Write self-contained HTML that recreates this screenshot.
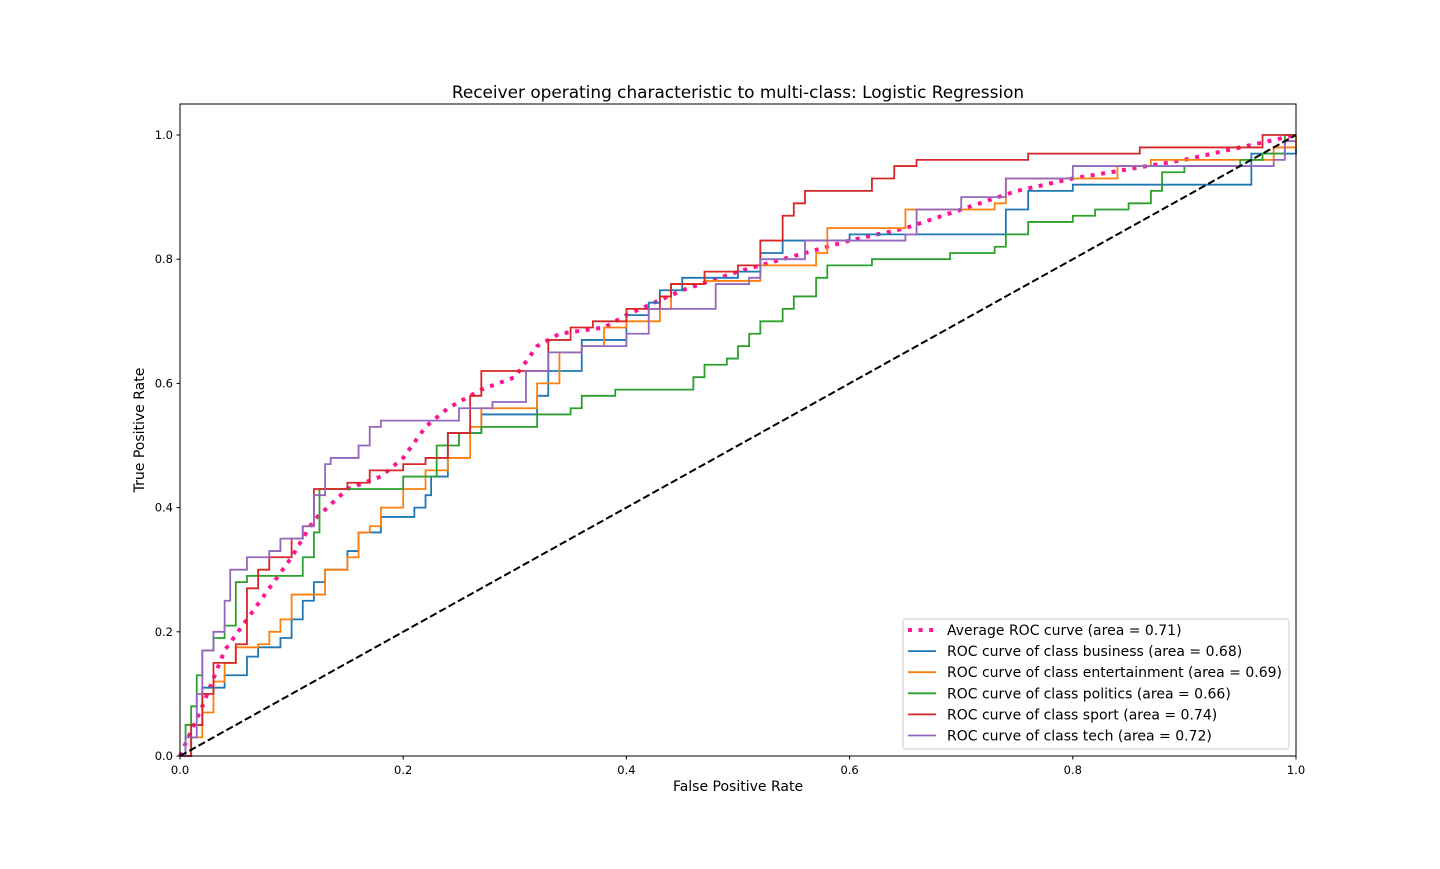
<!DOCTYPE html>
<html><head><meta charset="utf-8"><style>
body{margin:0;background:#fff;font-family:"Liberation Sans","DejaVu Sans",sans-serif}
svg text{font-family:"DejaVu Sans","Liberation Sans",sans-serif}
</style></head><body>
<svg id="chart" width="1440" height="864" xmlns="http://www.w3.org/2000/svg">
<rect width="1440" height="864" fill="#fff"/>
<text x="738" y="98" font-size="16.9" text-anchor="middle">Receiver operating characteristic to multi-class: Logistic Regression</text>
<g id="plot"></g>
<rect x="180" y="104" width="1116" height="652" fill="none" stroke="#000" stroke-width="1"/>
<g id="axes"></g>
<text x="738" y="791" font-size="14" text-anchor="middle">False Positive Rate</text>
<text transform="translate(144,430) rotate(-90)" font-size="14" text-anchor="middle">True Positive Rate</text>
<g id="legend"></g>
</svg>
<script>
const xTicks=[0,0.2,0.4,0.6,0.8,1.0];
const yTicks=[0,0.2,0.4,0.6,0.8,1.0];
const tickLabels=["0.0","0.2","0.4","0.6","0.8","1.0"];
const sportFpr=[0,0.01,0.02,0.03,0.05,0.06,0.07,0.08,0.1,0.11,0.12,0.15,0.17,0.2,0.22,0.24,0.26,0.27,0.3,0.33,0.35,0.37,0.4,0.43,0.44,0.45,0.47,0.5,0.52,0.54,0.54,0.55,0.56,0.61,0.62,0.64,0.66,0.75,0.76,0.86,0.97,1];
const sportTpr=[0,0.05,0.1,0.15,0.18,0.27,0.3,0.32,0.35,0.37,0.43,0.44,0.46,0.47,0.48,0.52,0.58,0.62,0.62,0.67,0.69,0.70,0.72,0.74,0.76,0.76,0.78,0.79,0.83,0.85,0.87,0.89,0.91,0.91,0.93,0.95,0.96,0.96,0.97,0.98,1.0,1.0];
const techFpr=[0,0.005,0.015,0.02,0.03,0.04,0.045,0.06,0.08,0.09,0.11,0.12,0.13,0.135,0.16,0.17,0.18,0.25,0.25,0.28,0.31,0.33,0.33,0.36,0.4,0.42,0.47,0.48,0.51,0.52,0.56,0.65,0.66,0.7,0.74,0.8,0.98,0.99,1];
const techTpr=[0,0.03,0.1,0.17,0.2,0.25,0.3,0.32,0.33,0.35,0.37,0.42,0.47,0.48,0.5,0.53,0.54,0.55,0.56,0.57,0.62,0.62,0.65,0.66,0.68,0.72,0.72,0.76,0.77,0.80,0.83,0.84,0.88,0.90,0.93,0.95,0.96,0.99,0.99];
const busFpr=[0,0.01,0.02,0.04,0.06,0.07,0.09,0.1,0.11,0.12,0.13,0.15,0.16,0.18,0.21,0.22,0.225,0.24,0.27,0.32,0.33,0.36,0.4,0.42,0.43,0.45,0.5,0.52,0.54,0.6,0.73,0.74,0.76,0.8,0.96,1];
const busTpr=[0,0.05,0.11,0.13,0.16,0.175,0.19,0.22,0.25,0.28,0.3,0.33,0.36,0.385,0.40,0.42,0.45,0.52,0.55,0.58,0.62,0.67,0.71,0.73,0.75,0.77,0.78,0.81,0.83,0.84,0.84,0.88,0.91,0.92,0.97,0.98];
const entFpr=[0,0.01,0.02,0.03,0.04,0.05,0.07,0.08,0.09,0.1,0.13,0.15,0.16,0.17,0.18,0.2,0.22,0.24,0.26,0.27,0.32,0.34,0.36,0.38,0.4,0.43,0.44,0.47,0.52,0.57,0.58,0.65,0.73,0.74,0.84,0.87,0.98,1];
const entTpr=[0,0.03,0.07,0.12,0.15,0.175,0.18,0.2,0.22,0.26,0.3,0.32,0.36,0.37,0.4,0.43,0.46,0.48,0.53,0.56,0.6,0.65,0.66,0.69,0.70,0.72,0.76,0.765,0.79,0.81,0.85,0.88,0.89,0.93,0.95,0.96,0.98,1.0];
const polFpr=[0,0.005,0.01,0.015,0.02,0.03,0.04,0.05,0.06,0.11,0.12,0.125,0.2,0.23,0.25,0.27,0.32,0.35,0.36,0.39,0.46,0.47,0.49,0.5,0.51,0.52,0.54,0.55,0.57,0.58,0.62,0.69,0.73,0.74,0.76,0.8,0.82,0.85,0.87,0.88,0.9,0.95,0.97,0.99,1];
const polTpr=[0,0.05,0.08,0.13,0.17,0.19,0.21,0.28,0.29,0.32,0.36,0.43,0.45,0.5,0.52,0.53,0.55,0.56,0.58,0.59,0.61,0.63,0.64,0.66,0.68,0.70,0.72,0.74,0.77,0.79,0.80,0.81,0.82,0.84,0.86,0.87,0.88,0.89,0.91,0.94,0.95,0.96,0.97,1.0,1.0];
const avgFpr=[0,0.02,0.04,0.06,0.08,0.1,0.12,0.15,0.18,0.2,0.22,0.24,0.27,0.3,0.32,0.34,0.38,0.4,0.45,0.5,0.56,0.6,0.65,0.7,0.75,0.8,0.9,1];
const avgTpr=[0,0.08,0.17,0.22,0.27,0.32,0.38,0.43,0.45,0.48,0.53,0.56,0.59,0.61,0.66,0.68,0.69,0.71,0.75,0.78,0.81,0.83,0.85,0.88,0.91,0.93,0.96,1];
const legendLabels=["Average ROC curve (area = 0.71)","ROC curve of class business (area = 0.68)","ROC curve of class entertainment (area = 0.69)","ROC curve of class politics (area = 0.66)","ROC curve of class sport (area = 0.74)","ROC curve of class tech (area = 0.72)"];

const NS="http://www.w3.org/2000/svg";
const X=v=>180+v*1116, Y=v=>756-v*621;
function mk(t,a,p){const e=document.createElementNS(NS,t);for(const k in a)e.setAttribute(k,a[k]);p.appendChild(e);return e;}
const plot=document.getElementById('plot'),axes=document.getElementById('axes'),leg=document.getElementById('legend');
function stepPath(fx,ty){let d=`M${X(fx[0])},${Y(ty[0])}`;for(let i=1;i<fx.length;i++){d+=`H${X(fx[i])}V${Y(ty[i])}`;}return d;}
function linePath(fx,ty){return fx.map((v,i)=>(i?'L':'M')+X(v)+','+Y(ty[i])).join('');}
const series=[[busFpr,busTpr,'#1f77b4','business'],[entFpr,entTpr,'#ff7f0e','entertainment'],[polFpr,polTpr,'#2ca02c','politics'],[sportFpr,sportTpr,'#d62728','sport'],[techFpr,techTpr,'#9467bd','tech']];
let p=mk('path',{d:linePath(avgFpr,avgTpr),fill:'none',stroke:'deeppink','stroke-width':4,'stroke-dasharray':'4,6.6'},plot);


series.forEach(s=>{const e=mk('path',{d:stepPath(s[0],s[1]),fill:'none',stroke:s[2],'stroke-width':1.8},plot);

});
const dg=mk('path',{d:`M${X(0)},${Y(0)}L${X(1)},${Y(1)}`,stroke:'#000','stroke-width':2,'stroke-dasharray':'7.4,3.2',fill:'none'},plot);


xTicks.forEach((v,i)=>{mk('line',{x1:X(v),x2:X(v),y1:756,y2:759.5,stroke:'#000'},axes);
const t=mk('text',{x:X(v),y:774,'font-size':11.5,'text-anchor':'middle'},axes);t.textContent=tickLabels[i];

});
yTicks.forEach((v,i)=>{mk('line',{x1:176.5,x2:180,y1:Y(v),y2:Y(v),stroke:'#000'},axes);
const t=mk('text',{x:173,y:Y(v)+4,'font-size':11.5,'text-anchor':'end'},axes);t.textContent=tickLabels[i];

});
const box=mk('rect',{x:903,y:619,width:386,height:130,rx:3,fill:'#fff','fill-opacity':0.8,stroke:'#ccc'},leg);


const cols=['deeppink','#1f77b4','#ff7f0e','#2ca02c','#d62728','#9467bd'];
legendLabels.forEach((l,i)=>{const y=630+i*21.1;
const ln=mk('line',{x1:908,x2:936,y1:y,y2:y,stroke:cols[i],'stroke-width':i?1.8:4},leg);
if(!i)ln.setAttribute('stroke-dasharray','4,6.6');
const t=mk('text',{x:947,y:y+5,'font-size':14},leg);t.textContent=l;

});
</script>
</body></html>
